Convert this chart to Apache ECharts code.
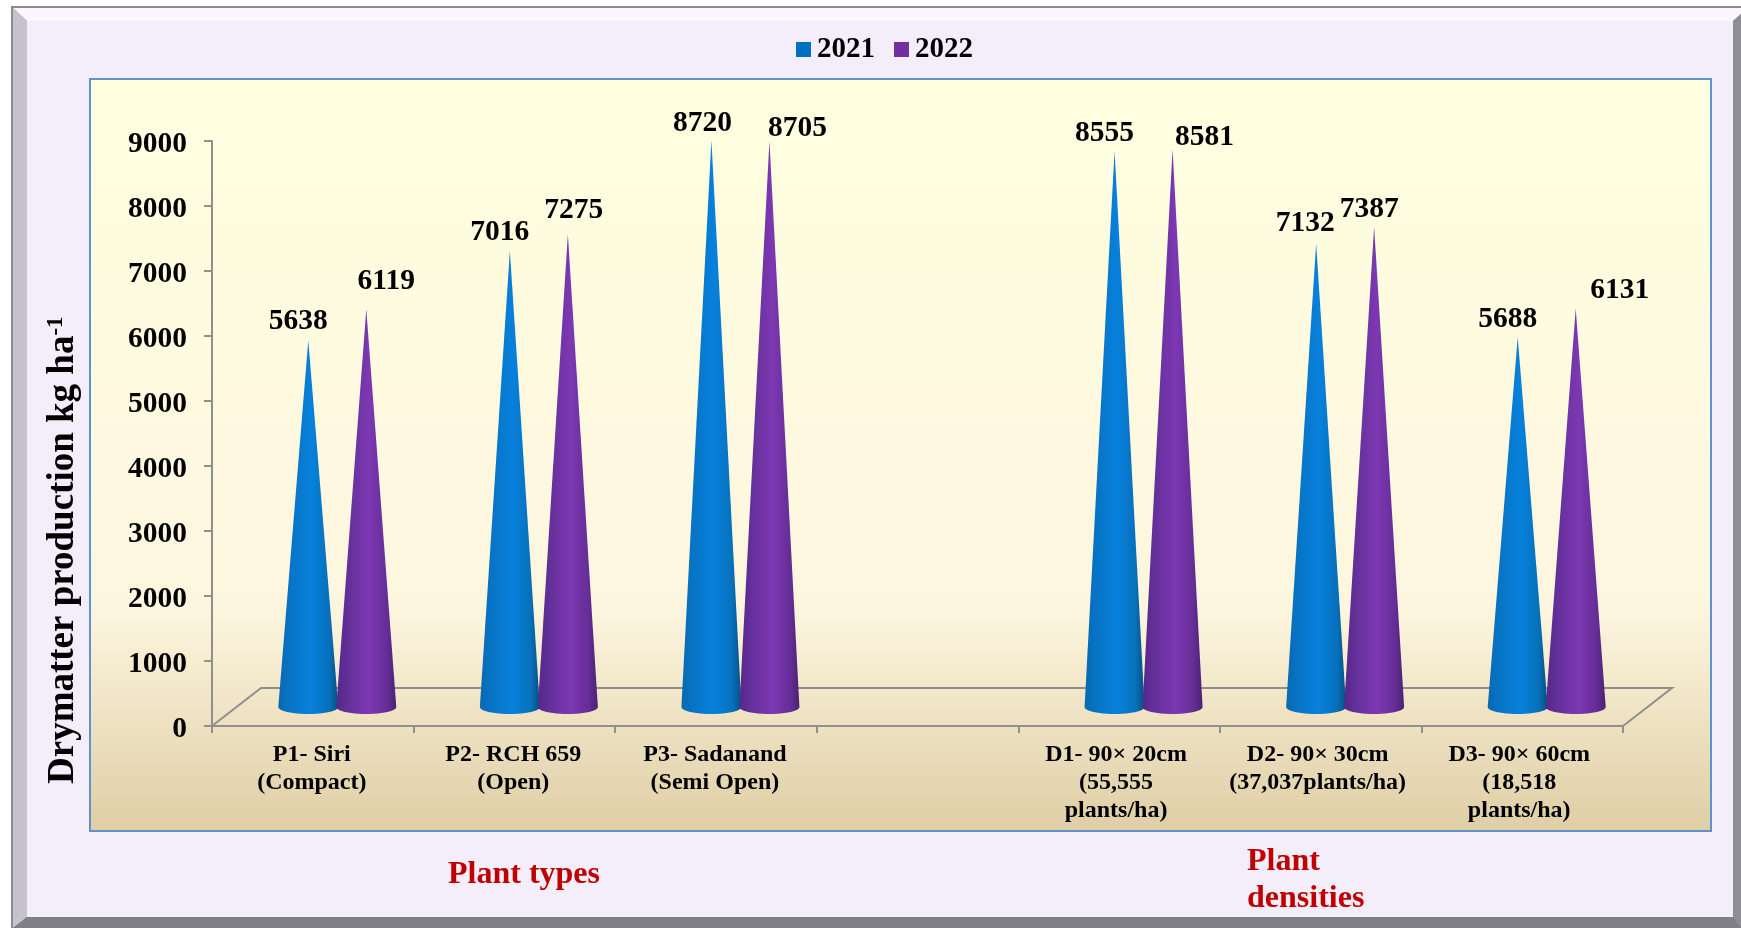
<!DOCTYPE html>
<html>
<head>
<meta charset="utf-8">
<style>
    html, body { margin: 0; padding: 0; background: #fff; }
    #chart { width: 1741px; height: 928px; }
</style>
<script src="https://cdn.jsdelivr.net/npm/echarts@6/dist/echarts.min.js"></script>
</head>
<body>
<div id="chart"></div>
<script>
const categories = [
    'P1- Siri\n(Compact)', 'P2- RCH 659\n(Open)', 'P3- Sadanand\n(Semi Open)', '',
    'D1- 90× 20cm\n(55,555\nplants/ha)', 'D2- 90× 30cm\n(37,037plants/ha)', 'D3- 90× 60cm\n(18,518\nplants/ha)'
]
const values2021 = [5638, 7016, 8720, null, 8555, 7132, 5688]
const values2022 = [6119, 7275, 8705, null, 8581, 7387, 6131]
const yTicks = { min: 0, max: 9000, interval: 1000 }

// data labels sit by hand in the original, so each one gets its own nudge from the cone tip
const labelNudge2021 = [[-10, -19], [-10, -19], [-9, -17], null, [-10, -18], [-11, -20], [-10, -18]]
const labelNudge2022 = [[20, -28], [6, -24], [28, -13], null, [32, -12], [-5, -17], [44, -18]]
// the category labels also sit a bit left of their band (right padding, so twice the shift)
const categoryPadRight = [2, 2, 2, 0, 6, 6, 6]

const FONT = '"Liberation Serif", "Times New Roman", serif'
const AXIS_GRAY = '#8f8f8f'
// fake 3D: the floor goes back by this much, cones stand halfway in
const FLOOR_DX = 49
const FLOOR_DY = -38
const CONE_HALF_W = 30
const CONE_RY = 7

const myChart = echarts.init(document.getElementById('chart'))

function hGradient(stops) {
    return new echarts.graphic.LinearGradient(0, 0, 1, 0, stops.map(s => ({ offset: s[0], color: s[1] })))
}

const blueFill = hGradient([[0, '#0a68ae'], [0.15, '#0772c2'], [0.55, '#0881dc'], [0.85, '#0770bb'], [1, '#04507f']])
const purpleFill = hGradient([[0, '#56278a'], [0.2, '#64309a'], [0.55, '#7d38b2'], [0.85, '#642d96'], [1, '#4a2272']])

function coneSeries(name, values, nudge, side, fill, swatch) {
    return {
        name,
        type: 'custom',
        coordinateSystem: 'cartesian2d',
        itemStyle: { color: swatch },
        encode: { x: 0, y: 1 },
        clip: false,
        z: side < 0 ? 3 : 4,
        data: values.map((v, i) => [i, v]).filter(d => d[1] !== null),
        renderItem(params, api) {
            const idx = api.value(0)
            const val = api.value(1)
            const tip = api.coord([idx, val])
            const base = api.coord([idx, 0])
            const cx = tip[0] + FLOOR_DX / 2 + side * 29
            const tipY = tip[1] + FLOOR_DY / 2
            const baseY = base[1] + FLOOR_DY / 2

            const points = [[cx, tipY]]
            for (let k = 0; k <= 24; k++) {
                const a = Math.PI * k / 24
                points.push([cx + CONE_HALF_W * Math.cos(a), baseY + CONE_RY * Math.sin(a)])
            }

            const shift = nudge[idx]
            return {
                type: 'group',
                children: [
                    { type: 'polygon', shape: { points }, style: { fill } },
                    {
                        type: 'text',
                        x: cx + shift[0],
                        y: tipY + shift[1],
                        z2: 10,
                        style: {
                            text: String(val),
                            font: 'bold 29.5px ' + FONT,
                            fill: '#000',
                            align: 'center',
                            verticalAlign: 'middle'
                        }
                    }
                ]
            }
        }
    }
}

const floorSeries = {
    type: 'custom',
    coordinateSystem: 'cartesian2d',
    silent: true,
    clip: false,
    z: 1,
    data: [[0, 0]],
    renderItem(params) {
        const g = params.coordSys
        const y = g.y + g.height
        const x2 = g.x + g.width
        return {
            type: 'polyline',
            shape: {
                points: [
                    [g.x, y],
                    [g.x + FLOOR_DX, y + FLOOR_DY],
                    [x2 + FLOOR_DX, y + FLOOR_DY],
                    [x2, y]
                ]
            },
            style: { stroke: AXIS_GRAY, lineWidth: 2, fill: null }
        }
    }
}

const option = {
    animation: false,
    textStyle: { fontFamily: FONT },
    grid: { left: 212, right: 118, top: 141, bottom: 202, containLabel: false },
    legend: {
        data: ['2021', '2022'],
        left: 791,
        top: 30,
        icon: 'rect',
        itemWidth: 15,
        itemHeight: 15,
        itemGap: 19,
        selectedMode: false,
        textStyle: { color: '#000', fontFamily: FONT, fontSize: 29, fontWeight: 'bold', padding: [0, 0, 0, 1] }
    },
    xAxis: {
        type: 'category',
        data: categories.map((name, i) => ({ value: name, textStyle: { padding: [0, categoryPadRight[i], 0, 0] } })),
        axisLine: { lineStyle: { color: AXIS_GRAY, width: 2 } },
        axisTick: { show: true, length: 7, lineStyle: { color: AXIS_GRAY, width: 2 } },
        axisLabel: {
            interval: 0,
            margin: 15,
            color: '#000',
            fontFamily: FONT,
            fontSize: 24,
            fontWeight: 'bold',
            lineHeight: 28
        }
    },
    yAxis: {
        type: 'value',
        min: yTicks.min,
        max: yTicks.max,
        interval: yTicks.interval,
        axisLine: { show: true, lineStyle: { color: AXIS_GRAY, width: 2 } },
        axisTick: { show: true, length: 8, lineStyle: { color: AXIS_GRAY, width: 2 } },
        splitLine: { show: false },
        axisLabel: {
            margin: 25,
            formatter: v => '{v|' + v + '}',
            rich: {
                v: {
                    color: '#000',
                    fontFamily: FONT,
                    fontSize: 29.5,
                    fontWeight: 'bold',
                    padding: [7, 0, 0, 0]
                }
            }
        }
    },
    graphic: [
        // bevelled page frame
        { type: 'rect', z: -20, shape: { x: 11, y: 6, width: 1730, height: 922 }, style: { fill: '#8c8c8c' } },
        { type: 'polygon', z: -19, shape: { points: [[13, 8], [1741, 8], [1741, 14], [1733, 21], [27, 21]] }, style: { fill: '#fcf6fe' } },
        { type: 'polygon', z: -19, shape: { points: [[13, 8], [27, 21], [27, 917], [13, 928]] }, style: { fill: '#c6c2ce' } },
        { type: 'polygon', z: -19, shape: { points: [[1741, 14], [1741, 928], [1733, 917], [1733, 21]] }, style: { fill: '#8f8d94' } },
        { type: 'polygon', z: -19, shape: { points: [[13, 928], [27, 917], [1733, 917], [1741, 928]] }, style: { fill: '#807f85' } },
        { type: 'rect', z: -18, shape: { x: 27, y: 21, width: 1706, height: 896 }, style: { fill: '#f4eefb' } },
        {
            type: 'rect',
            z: -17,
            shape: { x: 90, y: 79, width: 1621, height: 752 },
            style: {
                stroke: '#5f93c9',
                lineWidth: 2,
                fill: new echarts.graphic.LinearGradient(0, 0, 0, 1, [
                    { offset: 0, color: '#ffffe0' },
                    { offset: 0.7, color: '#fdf6df' },
                    { offset: 1, color: '#dfcea6' }
                ])
            }
        },
        {
            type: 'text',
            x: 45,
            y: 784,
            rotation: Math.PI / 2,
            style: {
                text: '{a|Drymatter production kg ha}{s|-1}',
                rich: {
                    a: { font: 'bold 37px ' + FONT, fill: '#000' },
                    s: { font: 'bold 23px ' + FONT, fill: '#000', verticalAlign: 'top' }
                }
            }
        },
        {
            type: 'text',
            x: 448,
            y: 859,
            style: { text: 'Plant types', font: 'bold 32px ' + FONT, fill: '#c00000' }
        },
        {
            type: 'text',
            x: 1247,
            y: 843,
            style: { text: 'Plant\ndensities', font: 'bold 32px ' + FONT, fill: '#c00000', lineHeight: 37 }
        }
    ],
    series: [
        floorSeries,
        coneSeries('2021', values2021, labelNudge2021, -1, blueFill, '#0070c0'),
        coneSeries('2022', values2022, labelNudge2022, 1, purpleFill, '#7030a0')
    ]
}

myChart.setOption(option)
</script>
</body>
</html>
